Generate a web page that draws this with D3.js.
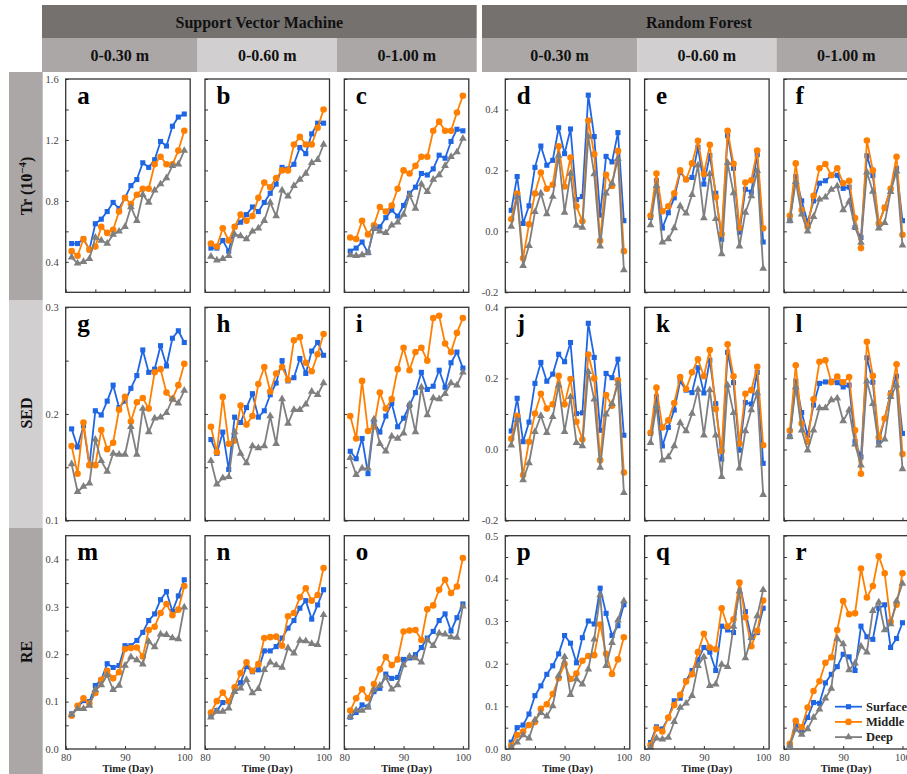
<!DOCTYPE html>
<html>
<head>
<meta charset="utf-8">
<script src="https://cdn.jsdelivr.net/npm/d3@7"></script>
<style>
body{margin:0;background:#fff;}
svg{display:block;font-family:"Liberation Serif","Times New Roman",serif;}
</style>
</head>
<body>
<div id="chart"></div>
<script>
const days = [81,82,83,84,85,86,87,88,89,90,91,92,93,94,95,96,97,98,99,100];
const models = ['Support Vector Machine', 'Random Forest'];
const depths = ['0-0.30 m', '0-0.60 m', '0-1.00 m'];
const metrics = ['Tr', 'SED', 'RE'];
const seriesNames = ['Surface', 'Middle', 'Deep'];
const letters = ['a','b','c','d','e','f','g','h','i','j','k','l','m','n','o','p','q','r'];
const xTickLabels = [80, 90, 100];
const xMinorTicks = [85, 95];

// y axis ranges and ticks, [row][model]
const trSvmDomain = [0.2, 1.6], trSvmTicks = [0.4, 0.8, 1.2, 1.6], trSvmMinor = [0.6, 1.0, 1.4];
const trRfDomain = [-0.2, 0.5], trRfTicks = [-0.2, 0.0, 0.2, 0.4], trRfMinor = [-0.1, 0.1, 0.3, 0.5];
const sedSvmDomain = [0.1, 0.3], sedSvmTicks = [0.1, 0.2, 0.3], sedSvmMinor = [0.15, 0.25];
const sedRfDomain = [-0.2, 0.4], sedRfTicks = [-0.2, 0.0, 0.2, 0.4], sedRfMinor = [-0.1, 0.1, 0.3];
const reSvmDomain = [0, 0.45], reSvmTicks = [0.0, 0.1, 0.2, 0.3, 0.4], reSvmMinor = [0.05, 0.15, 0.25, 0.35];
const reRfDomain = [0, 0.5], reRfTicks = [0.0, 0.1, 0.2, 0.3, 0.4, 0.5], reRfMinor = [0.05, 0.15, 0.25, 0.35, 0.45];

// Tr, SVM
const aSurface = [0.52,0.52,0.55,0.48,0.65,0.68,0.73,0.79,0.75,0.82,0.90,0.94,1.05,1.02,1.07,1.19,1.16,1.29,1.35,1.37];
const aMiddle = [0.47,0.44,0.55,0.48,0.50,0.63,0.59,0.61,0.73,0.82,0.78,0.84,0.88,0.88,1.04,1.09,1.04,1.04,1.13,1.26];
const aDeep = [0.43,0.39,0.40,0.42,0.56,0.54,0.52,0.58,0.60,0.63,0.76,0.67,0.84,0.79,0.87,0.91,0.95,1.03,1.04,1.13];
const bSurface = [0.49,0.49,0.54,0.47,0.63,0.66,0.71,0.76,0.73,0.79,0.85,0.91,1.02,1.01,1.04,1.15,1.11,1.24,1.31,1.31];
const bMiddle = [0.52,0.50,0.62,0.54,0.63,0.71,0.67,0.70,0.82,0.92,0.89,0.95,1.00,1.00,1.17,1.22,1.17,1.17,1.28,1.40];
const bDeep = [0.435,0.41,0.42,0.44,0.58,0.57,0.55,0.60,0.62,0.67,0.79,0.70,0.87,0.83,0.90,0.94,0.98,1.05,1.07,1.17];
const cSurface = [0.47,0.49,0.53,0.46,0.62,0.63,0.69,0.74,0.70,0.77,0.85,0.89,0.98,0.97,1.01,1.10,1.08,1.19,1.27,1.26];
const cMiddle = [0.56,0.55,0.67,0.58,0.64,0.76,0.73,0.77,0.88,1.00,0.98,1.03,1.09,1.09,1.26,1.32,1.26,1.26,1.38,1.49];
const cDeep = [0.445,0.44,0.445,0.46,0.62,0.60,0.59,0.64,0.66,0.71,0.84,0.75,0.91,0.86,0.94,0.97,1.03,1.09,1.12,1.21];
// Tr, RF
const dSurface = [0.069,0.18,0.026,0.084,0.21,0.28,0.217,0.233,0.34,0.255,0.336,0.104,0.114,0.447,0.311,0.053,0.246,0.228,0.324,0.035];
const dMiddle = [0.04,0.124,-0.088,0.023,0.124,0.193,0.14,0.153,0.279,0.147,0.242,0.082,0.033,0.364,0.253,-0.031,0.186,0.149,0.264,-0.065];
const dDeep = [0.016,0.112,-0.113,-0.047,0.064,0.125,0.057,0.114,0.249,0.062,0.19,0.019,0.013,0.311,0.188,-0.049,0.125,0.158,0.238,-0.127];
const eSurface = [0.046,0.166,0.011,0.061,0.11,0.194,0.17,0.177,0.276,0.155,0.249,0.125,-0.026,0.314,0.207,-0.003,0.138,0.129,0.252,-0.035];
const eMiddle = [0.051,0.19,0.066,0.082,0.125,0.2,0.17,0.223,0.297,0.188,0.284,0.112,-0.009,0.33,0.222,0.011,0.16,0.168,0.265,0.01];
const eDeep = [0.021,0.15,-0.036,-0.025,0.011,0.083,0.059,0.12,0.217,0.044,0.188,0.041,-0.074,0.225,0.126,-0.049,0.062,0.116,0.199,-0.122];
const fSurface = [0.035,0.18,0.10,0.03,0.10,0.158,0.166,0.184,0.184,0.141,0.145,0.013,-0.02,0.248,0.183,0.024,0.079,0.139,0.207,0.035];
const fMiddle = [0.051,0.223,0.07,0.015,0.117,0.207,0.221,0.184,0.207,0.158,0.166,0.044,-0.055,0.298,0.2,0.026,0.077,0.14,0.245,-0.011];
const fDeep = [0.035,0.163,0.056,0,0.048,0.105,0.112,0.137,0.149,0.07,0.098,0.014,-0.037,0.194,0.131,0.01,0.028,0.13,0.197,-0.046];
// SED, SVM
const gSurface = [0.186,0.169,0.189,0.152,0.203,0.199,0.212,0.227,0.206,0.212,0.224,0.236,0.26,0.239,0.242,0.264,0.245,0.271,0.278,0.267];
const gMiddle = [0.17,0.144,0.192,0.152,0.152,0.185,0.167,0.173,0.204,0.216,0.193,0.211,0.215,0.205,0.239,0.242,0.22,0.214,0.227,0.247];
const gDeep = [0.153,0.127,0.132,0.135,0.176,0.156,0.146,0.163,0.162,0.162,0.188,0.162,0.205,0.183,0.196,0.197,0.201,0.214,0.21,0.222];
const hSurface = [0.176,0.163,0.183,0.148,0.197,0.192,0.206,0.219,0.197,0.203,0.218,0.229,0.25,0.231,0.234,0.252,0.238,0.259,0.267,0.255];
const hMiddle = [0.188,0.164,0.216,0.172,0.175,0.208,0.19,0.198,0.228,0.244,0.221,0.238,0.244,0.232,0.269,0.272,0.248,0.24,0.256,0.275];
const hDeep = [0.156,0.134,0.14,0.141,0.183,0.163,0.154,0.17,0.168,0.17,0.198,0.172,0.214,0.191,0.204,0.204,0.209,0.221,0.218,0.229];
const iSurface = [0.165,0.158,0.177,0.144,0.192,0.183,0.198,0.21,0.188,0.196,0.208,0.22,0.239,0.223,0.226,0.241,0.225,0.248,0.258,0.243];
const iMiddle = [0.198,0.177,0.231,0.184,0.188,0.22,0.205,0.214,0.242,0.262,0.241,0.258,0.262,0.25,0.29,0.292,0.266,0.258,0.276,0.29];
const iDeep = [0.159,0.143,0.149,0.149,0.195,0.172,0.165,0.179,0.177,0.182,0.209,0.183,0.225,0.199,0.215,0.214,0.219,0.229,0.227,0.239];
// SED, RF
const jSurface = [0.052,0.144,0.022,0.077,0.186,0.245,0.192,0.212,0.268,0.247,0.301,0.101,0.103,0.355,0.259,0.054,0.214,0.202,0.254,0.04];
const jMiddle = [0.03,0.095,-0.072,0.022,0.101,0.157,0.115,0.127,0.207,0.127,0.198,0.078,0.028,0.267,0.2,-0.03,0.153,0.123,0.195,-0.065];
const jDeep = [0.012,0.083,-0.086,-0.038,0.05,0.095,0.047,0.092,0.181,0.05,0.148,0.019,0.01,0.219,0.141,-0.051,0.099,0.129,0.186,-0.122];
const kSurface = [0.045,0.148,0.01,0.062,0.111,0.192,0.167,0.16,0.23,0.159,0.251,0.129,-0.027,0.273,0.188,-0.002,0.132,0.128,0.217,-0.039];
const kMiddle = [0.047,0.174,0.062,0.082,0.131,0.204,0.17,0.217,0.254,0.206,0.28,0.114,-0.004,0.296,0.206,0.017,0.157,0.167,0.233,0.012];
const kDeep = [0.019,0.123,-0.03,-0.021,0.01,0.075,0.052,0.101,0.169,0.04,0.167,0.04,-0.077,0.181,0.103,-0.053,0.052,0.111,0.159,-0.127];
const lSurface = [0.036,0.192,0.104,0.04,0.125,0.186,0.19,0.192,0.188,0.176,0.181,0.022,-0.021,0.258,0.189,0.022,0.087,0.159,0.206,0.045];
const lMiddle = [0.053,0.237,0.073,0.022,0.141,0.247,0.251,0.189,0.205,0.189,0.204,0.054,-0.068,0.303,0.207,0.034,0.087,0.155,0.24,-0.013];
const lDeep = [0.036,0.176,0.054,-0.002,0.054,0.117,0.117,0.139,0.144,0.08,0.111,0.015,-0.044,0.192,0.129,0.012,0.029,0.148,0.181,-0.055];
// RE, SVM
const mSurface = [0.074,0.087,0.102,0.1,0.134,0.146,0.18,0.172,0.176,0.218,0.218,0.229,0.246,0.271,0.285,0.315,0.332,0.29,0.323,0.357];
const mMiddle = [0.07,0.091,0.107,0.096,0.118,0.146,0.165,0.149,0.162,0.211,0.213,0.214,0.195,0.251,0.258,0.287,0.306,0.282,0.294,0.344];
const mDeep = [0.072,0.085,0.085,0.092,0.125,0.135,0.156,0.125,0.134,0.176,0.194,0.188,0.179,0.227,0.215,0.242,0.241,0.234,0.232,0.299];
const nSurface = [0.072,0.081,0.098,0.1,0.128,0.14,0.174,0.163,0.167,0.207,0.207,0.216,0.234,0.255,0.271,0.297,0.313,0.274,0.304,0.336];
const nMiddle = [0.077,0.101,0.119,0.1,0.13,0.16,0.183,0.165,0.179,0.234,0.236,0.237,0.218,0.28,0.287,0.32,0.339,0.313,0.325,0.382];
const nDeep = [0.067,0.079,0.079,0.086,0.121,0.128,0.146,0.118,0.127,0.167,0.183,0.177,0.172,0.213,0.202,0.229,0.228,0.222,0.22,0.283];
const oSurface = [0.067,0.077,0.093,0.089,0.121,0.128,0.158,0.149,0.151,0.189,0.192,0.199,0.214,0.234,0.248,0.271,0.285,0.249,0.277,0.306];
const oMiddle = [0.081,0.107,0.126,0.107,0.137,0.168,0.194,0.177,0.189,0.248,0.25,0.251,0.23,0.295,0.303,0.336,0.357,0.329,0.343,0.403];
const oDeep = [0.068,0.082,0.081,0.088,0.125,0.134,0.151,0.126,0.135,0.177,0.195,0.192,0.183,0.23,0.218,0.244,0.242,0.236,0.235,0.301];
// RE, RF
const pSurface = [0.016,0.05,0.056,0.082,0.125,0.148,0.175,0.195,0.223,0.266,0.248,0.202,0.261,0.3,0.293,0.377,0.318,0.266,0.289,0.338];
const pMiddle = [0.008,0.033,0.041,0.056,0.063,0.094,0.105,0.129,0.166,0.199,0.164,0.177,0.207,0.218,0.22,0.292,0.223,0.176,0.21,0.262];
const pDeep = [0.004,0.016,0.033,0.025,0.068,0.085,0.077,0.101,0.172,0.216,0.127,0.164,0.152,0.187,0.257,0.361,0.195,0.249,0.302,0.347];
const qSurface = [0.015,0.052,0.047,0.073,0.113,0.119,0.16,0.184,0.209,0.238,0.227,0.184,0.288,0.279,0.273,0.39,0.322,0.262,0.273,0.33];
const qMiddle = [0.009,0.048,0.041,0.074,0.103,0.127,0.158,0.175,0.227,0.27,0.238,0.234,0.33,0.287,0.304,0.39,0.309,0.241,0.277,0.348];
const qDeep = [0.004,0.025,0.023,0.027,0.064,0.097,0.107,0.125,0.195,0.216,0.148,0.152,0.198,0.193,0.287,0.37,0.213,0.261,0.312,0.373];
const rSurface = [0.009,0.056,0.045,0.074,0.109,0.107,0.155,0.175,0.193,0.222,0.216,0.184,0.288,0.263,0.257,0.33,0.338,0.238,0.259,0.296];
const rMiddle = [0.012,0.066,0.051,0.097,0.136,0.159,0.202,0.215,0.279,0.347,0.316,0.318,0.423,0.355,0.382,0.452,0.412,0.298,0.338,0.412];
const rDeep = [0.009,0.046,0.034,0.047,0.074,0.093,0.119,0.142,0.259,0.246,0.185,0.201,0.241,0.227,0.324,0.344,0.279,0.293,0.347,0.388];

const panelSeries = {
    a: [aSurface, aMiddle, aDeep], b: [bSurface, bMiddle, bDeep], c: [cSurface, cMiddle, cDeep],
    d: [dSurface, dMiddle, dDeep], e: [eSurface, eMiddle, eDeep], f: [fSurface, fMiddle, fDeep],
    g: [gSurface, gMiddle, gDeep], h: [hSurface, hMiddle, hDeep], i: [iSurface, iMiddle, iDeep],
    j: [jSurface, jMiddle, jDeep], k: [kSurface, kMiddle, kDeep], l: [lSurface, lMiddle, lDeep],
    m: [mSurface, mMiddle, mDeep], n: [nSurface, nMiddle, nDeep], o: [oSurface, oMiddle, oDeep],
    p: [pSurface, pMiddle, pDeep], q: [qSurface, qMiddle, qDeep], r: [rSurface, rMiddle, rDeep]
};
const axisSpecs = [
    [{domain: trSvmDomain, ticks: trSvmTicks, minor: trSvmMinor}, {domain: trRfDomain, ticks: trRfTicks, minor: trRfMinor}],
    [{domain: sedSvmDomain, ticks: sedSvmTicks, minor: sedSvmMinor}, {domain: sedRfDomain, ticks: sedRfTicks, minor: sedRfMinor}],
    [{domain: reSvmDomain, ticks: reSvmTicks, minor: reSvmMinor}, {domain: reRfDomain, ticks: reRfTicks, minor: reRfMinor}]
];

const colors = ['#1f66e5', '#ff8000', '#7f7f7f'];
const symbols = [d3.symbolSquare, d3.symbolCircle, d3.symbolTriangle];
const symbolSizes = [26, 34, 26];

const darkBand = '#75716f', midBand = '#aba7a6', lightBand = '#d1cfcf';
const width = 907, height = 774;

// layout
const groupLeft = [65.7, 505.3];
const colStep = 139.3;
const panelW = 124.5, panelH = 213.3;
const rowTop = [79, 307.3, 535.7];
const headerLeft = [42, 482], headerRight = [476.7, 916];

const svg = d3.select('#chart').append('svg')
    .attr('width', width)
    .attr('height', height);

const fmt = d3.format('.1f');
function tickText(v){
    return fmt(v).replace('\u2212', '-');
}

drawHeaders();
drawRowLabels();
metrics.forEach(function(metric, r){
    models.forEach(function(model, m){
        depths.forEach(function(depth, k){
            drawPanel(r, m, k);
        });
    });
});
drawLegend();

function drawHeaders(){
    models.forEach(function(model, m){
        svg.append('rect')
            .attr('x', headerLeft[m]).attr('y', 5)
            .attr('width', headerRight[m] - headerLeft[m]).attr('height', 33)
            .attr('fill', darkBand);
        svg.append('text')
            .attr('x', (headerLeft[m] + headerRight[m]) / 2)
            .attr('y', 27.5)
            .attr('text-anchor', 'middle')
            .attr('font-size', 16).attr('font-weight', 'bold')
            .attr('fill', '#111')
            .text(model);
        // depth cells
        let edges = [headerLeft[m]];
        for(let k = 1; k < 3; k++){
            edges.push(groupLeft[m] + k * colStep - (colStep - panelW) / 2);
        }
        edges.push(headerRight[m]);
        depths.forEach(function(depth, k){
            svg.append('rect')
                .attr('x', edges[k]).attr('y', 38)
                .attr('width', edges[k + 1] - edges[k]).attr('height', 34)
                .attr('fill', k === 1 ? lightBand : midBand);
            svg.append('text')
                .attr('x', (edges[k] + edges[k + 1]) / 2)
                .attr('y', 61)
                .attr('text-anchor', 'middle')
                .attr('font-size', 16).attr('font-weight', 'bold')
                .attr('fill', '#111')
                .text(depth);
        });
    });
}

function drawRowLabels(){
    const bandTop = [72, 300, 528], bandBottom = [300, 528, 774];
    metrics.forEach(function(metric, r){
        svg.append('rect')
            .attr('x', 9).attr('y', bandTop[r])
            .attr('width', 33.7).attr('height', bandBottom[r] - bandTop[r])
            .attr('fill', r === 1 ? lightBand : midBand);
    });
    let cy = [186, 413, 652];
    let tr = svg.append('text')
        .attr('transform', `translate(32,${cy[0]}) rotate(-90)`)
        .attr('text-anchor', 'middle')
        .attr('font-size', 16).attr('font-weight', 'bold')
        .attr('fill', '#111');
    tr.append('tspan').text('Tr (10');
    tr.append('tspan').attr('dy', -6).attr('font-size', 11).text('\u22124');
    tr.append('tspan').attr('dy', 6).text(')');
    ['SED', 'RE'].forEach(function(t, i){
        svg.append('text')
            .attr('transform', `translate(32,${cy[i + 1]}) rotate(-90)`)
            .attr('text-anchor', 'middle')
            .attr('font-size', 16).attr('font-weight', 'bold')
            .attr('fill', '#111')
            .text(t);
    });
}

function drawPanel(r, m, k){
    let letter = letters[r * 6 + m * 3 + k];
    let spec = axisSpecs[r][m];
    let x0 = groupLeft[m] + k * colStep;
    let y0 = rowTop[r];

    let x = d3.scaleLinear().domain([80, 101]).range([0, panelW]);
    let y = d3.scaleLinear().domain(spec.domain).range([panelH, 0]);

    let g = svg.append('g').attr('transform', `translate(${x0},${y0})`);
    g.append('rect').attr('width', panelW).attr('height', panelH).attr('fill', '#fff');

    // left ticks point inward, labels only on first panel of each model
    let yAxis = d3.axisLeft(y).tickValues(spec.ticks).tickSize(-3).tickPadding(7)
        .tickFormat(k === 0 ? tickText : '');
    let ya = g.append('g').call(yAxis);
    let yMinor = d3.axisLeft(y).tickValues(spec.minor).tickSize(-3).tickFormat('');
    let ym = g.append('g').call(yMinor);

    let xAxis = d3.axisBottom(x).tickValues(xTickLabels).tickSize(-3).tickPadding(4)
        .tickFormat(r === 2 ? d3.format('d') : '');
    let xa = g.append('g').attr('transform', `translate(0,${panelH})`).call(xAxis);
    let xMinor = d3.axisBottom(x).tickValues(xMinorTicks).tickSize(-3).tickFormat('');
    let xm = g.append('g').attr('transform', `translate(0,${panelH})`).call(xMinor);

    [ya, ym, xa, xm].forEach(function(a){
        a.select('.domain').remove();
        a.selectAll('line').attr('stroke', '#333').attr('stroke-width', 1);
        a.selectAll('text')
            .attr('font-family', '"Liberation Serif","Times New Roman",serif')
            .attr('font-size', 10.5)
            .attr('fill', '#444');
    });
    xa.selectAll('text').attr('dy', '0.72em');

    if(r === 2){
        g.append('text')
            .attr('x', panelW / 2).attr('y', panelH + 23)
            .attr('text-anchor', 'middle')
            .attr('font-size', 10.5).attr('font-weight', 'bold')
            .attr('fill', '#222')
            .text('Time (Day)');
    }

    let line = d3.line()
        .x(function(d, i){ return x(days[i]); })
        .y(function(d){ return y(d); });

    panelSeries[letter].forEach(function(values, s){
        g.append('path')
            .datum(values)
            .attr('fill', 'none')
            .attr('stroke', colors[s])
            .attr('stroke-width', 1.8)
            .attr('stroke-linejoin', 'round')
            .attr('d', line);
        g.selectAll('.pt' + s)
            .data(values)
            .enter().append('path')
            .attr('class', 'pt' + s)
            .attr('transform', function(d, i){ return `translate(${x(days[i])},${y(d)})`; })
            .attr('d', d3.symbol().type(symbols[s]).size(symbolSizes[s]))
            .attr('fill', colors[s]);
    });

    g.append('text')
        .attr('x', 11.5).attr('y', 24.5)
        .attr('font-size', 25).attr('font-weight', 'bold')
        .attr('fill', '#000')
        .text(letter);

    g.append('rect')
        .attr('width', panelW).attr('height', panelH)
        .attr('fill', 'none')
        .attr('stroke', '#333')
        .attr('stroke-width', 1.3);
}

function drawLegend(){
    let lg = svg.append('g').attr('transform', 'translate(835,706.7)');
    seriesNames.forEach(function(name, s){
        let row = lg.append('g').attr('transform', `translate(0,${s * 15.2})`);
        row.append('line')
            .attr('x1', 0).attr('x2', 27)
            .attr('stroke', colors[s]).attr('stroke-width', 1.8);
        row.append('path')
            .attr('transform', 'translate(13.5,0)')
            .attr('d', d3.symbol().type(symbols[s]).size(symbolSizes[s]))
            .attr('fill', colors[s]);
        row.append('text')
            .attr('x', 31).attr('y', 4.3)
            .attr('font-size', 12.5).attr('font-weight', 'bold')
            .attr('fill', '#222')
            .text(name);
    });
}
</script>
</body>
</html>
